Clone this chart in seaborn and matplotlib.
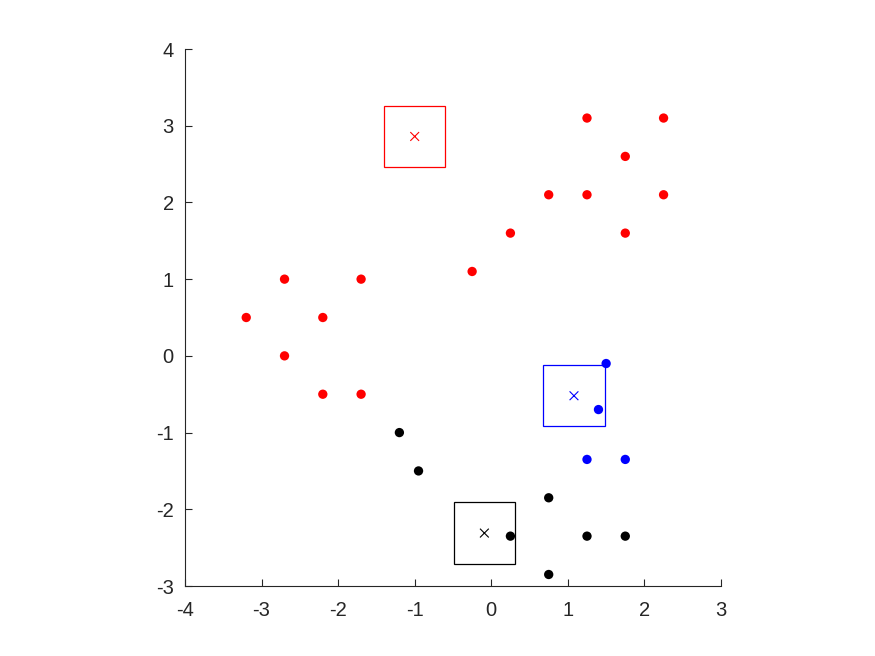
import numpy as np
import pandas as pd
import matplotlib
matplotlib.use("Agg")
import matplotlib.pyplot as plt
from matplotlib.patches import Rectangle
import seaborn as sns

# data points per cluster
red_x = [-3.2, -2.7, -2.7, -2.2, -2.2, -1.7, -1.7, -0.25, 0.25, 0.75, 1.25, 1.25, 1.75, 1.75, 2.25, 2.25]
red_y = [0.5, 1.0, 0.0, 0.5, -0.5, 1.0, -0.5, 1.1, 1.6, 2.1, 3.1, 2.1, 2.6, 1.6, 3.1, 2.1]
blue_x = [1.5, 1.4, 1.25, 1.75]
blue_y = [-0.1, -0.7, -1.35, -1.35]
black_x = [-1.2, -0.95, 0.75, 0.25, 1.25, 1.75, 0.75]
black_y = [-1.0, -1.5, -1.85, -2.35, -2.35, -2.35, -2.85]

# cluster centres
cluster_names = ["red", "blue", "black"]
center_x = [-1.0, 1.08, -0.09]
center_y = [2.86, -0.52, -2.31]
box_half = 0.4

df = pd.DataFrame({
    "x": red_x + blue_x + black_x,
    "y": red_y + blue_y + black_y,
    "cluster": ["red"] * len(red_x) + ["blue"] * len(blue_x) + ["black"] * len(black_x),
})
palette = {"red": "#ff0000", "blue": "#0000ff", "black": "#000000"}

sns.set_style("white")
plt.rcParams["font.family"] = ["Liberation Sans", "DejaVu Sans"]
plt.rcParams["axes.unicode_minus"] = False

fig = plt.figure(figsize=(8.75, 6.56), dpi=100)
ax = fig.add_axes([0.2114, 0.1067, 0.6126, 0.8186])

sns.scatterplot(data=df, x="x", y="y", hue="cluster", palette=palette,
                s=45, edgecolor="none", legend=False, ax=ax)

cdf = pd.DataFrame({"x": center_x, "y": center_y, "cluster": cluster_names})
sns.scatterplot(data=cdf, x="x", y="y", hue="cluster", palette=palette,
                marker="x", s=40, linewidth=0.8, legend=False, ax=ax)

for name, cx, cy in zip(cluster_names, center_x, center_y):
    ax.add_patch(Rectangle((cx - box_half, cy - box_half), 2 * box_half, 2 * box_half,
                           fill=False, edgecolor=palette[name], linewidth=0.9))

ax.set_xlim(-4, 3)
ax.set_ylim(-3, 4)
ax.set_xticks(range(-4, 4))
ax.set_yticks(range(-3, 5))
ax.set_xlabel("")
ax.set_ylabel("")
sns.despine(ax=ax)
for sp in ["left", "bottom"]:
    ax.spines[sp].set_color("#262626")
    ax.spines[sp].set_linewidth(0.8)
ax.tick_params(direction="in", length=5, width=0.8, colors="#262626",
               labelsize=14.5, bottom=True, left=True)
ax.tick_params(axis="x", pad=11)
ax.tick_params(axis="y", pad=8)

fig.savefig("out.png", dpi=100)
